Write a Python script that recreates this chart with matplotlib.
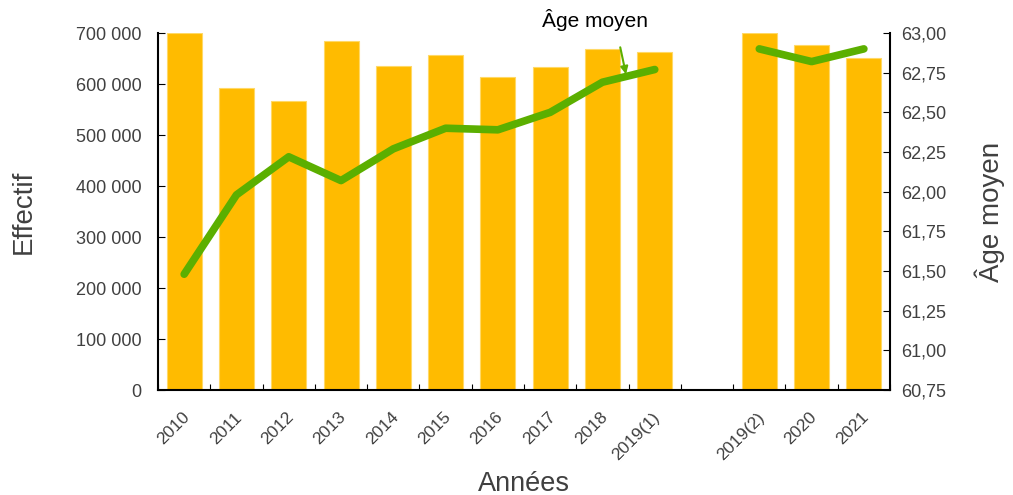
import matplotlib.pyplot as plt
import numpy as np

plt.rcParams['font.family'] = ['Liberation Sans', 'DejaVu Sans']

years = ["2010", "2011", "2012", "2013", "2014", "2015", "2016", "2017",
         "2018", "2019(1)", "2019(2)", "2020", "2021"]
effectif = [700000, 592000, 567000, 684000, 635000, 657000, 614000, 633000,
            668000, 663000, 700000, 676000, 651000]
age_moyen = [61.48, 61.98, 62.22, 62.07, 62.27, 62.40, 62.39, 62.50,
             62.69, 62.77, 62.90, 62.82, 62.90]

# empty slot between 2019(1) and 2019(2)
pos = np.array([0, 1, 2, 3, 4, 5, 6, 7, 8, 9, 11, 12, 13])

fig = plt.figure(figsize=(10.13, 4.95), dpi=100)
ax = fig.add_axes([0.156, 0.212, 0.7226, 0.7213])
ax.bar(pos, effectif, width=0.67, color="#FFBB00", edgecolor="#FFD966", linewidth=0.8)
ax.set_xlim(-0.5, 13.5)
ax.set_ylim(0, 700000)
ax.set_yticks(np.arange(0, 700001, 100000))
ax.set_yticklabels([f"{v:,}".replace(",", " ") for v in range(0, 700001, 100000)])
ax.set_xticks(np.arange(-0.5, 13.6, 1))
ax.set_xticklabels([])
ax.set_xticks(pos - 0.05, minor=True)
ax.set_xticklabels(years, minor=True, rotation=45, ha="right", rotation_mode="anchor")
ax.tick_params(axis="x", which="minor", length=0, pad=14, labelsize=12.5, labelcolor="#404040")
ax.tick_params(axis="x", which="major", direction="in", length=4)
ax.tick_params(axis="y", direction="in", length=5, labelsize=13, labelcolor="#404040", pad=12)
ax.spines["top"].set_visible(False)
ax.spines["right"].set_visible(False)
for s in ("left", "bottom"):
    ax.spines[s].set_linewidth(1.5)
ax.set_ylabel("Effectif", fontsize=20, color="#404040", labelpad=28)
ax.set_xlabel("Années", fontsize=19.5, color="#404040", labelpad=6)

ax2 = ax.twinx()
ax2.plot(pos[:10], age_moyen[:10], color="#5BAF00", linewidth=5.5, solid_capstyle="round")
ax2.plot(pos[10:], age_moyen[10:], color="#5BAF00", linewidth=5.5, solid_capstyle="round")
ax2.set_ylim(60.75, 63.0)
ticks = np.arange(60.75, 63.01, 0.25)
ax2.set_yticks(ticks)
ax2.set_yticklabels([f"{t:.2f}".replace(".", ",") for t in ticks])
ax2.tick_params(axis="y", direction="in", length=5, labelsize=13, labelcolor="#404040", pad=8)
ax2.spines["top"].set_visible(False)
ax2.spines["left"].set_visible(False)
ax2.spines["bottom"].set_visible(False)
ax2.spines["right"].set_linewidth(1.5)
ax2.set_ylabel("Âge moyen", fontsize=20, color="#404040", labelpad=20)

ax2.text(7.86, 63.01, "Âge moyen", fontsize=15, ha="center", va="bottom",
         color="black", clip_on=False)
ax2.annotate("", xy=(8.45, 62.74), xytext=(8.34, 62.91),
             arrowprops=dict(arrowstyle="-|>", color="#5BAF00", lw=1.5,
                             mutation_scale=11, shrinkA=0, shrinkB=0))

fig.savefig("out.png", dpi=100)
